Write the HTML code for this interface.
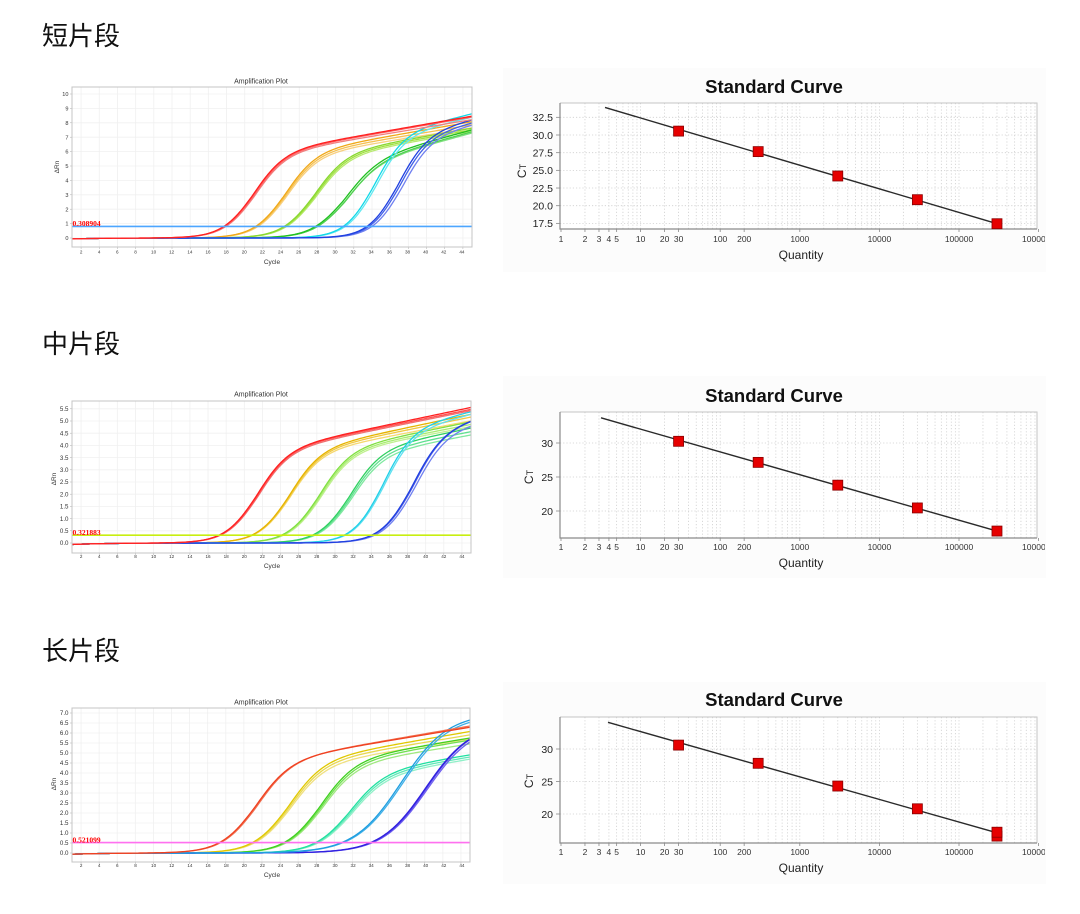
<!DOCTYPE html>
<html><head><meta charset="utf-8">
<style>
html,body{margin:0;padding:0;background:#fff;}
svg{display:block;}
.h{font-family:"Liberation Sans","Noto Sans CJK SC",sans-serif;font-size:26px;fill:#111;}
.t{font-family:"Liberation Sans",sans-serif;fill:#333;}
.ay{font-size:6.2px;text-anchor:end;}
.ay1{font-size:5.6px;text-anchor:end;}
.ax{font-size:4.6px;text-anchor:middle;}
.ttl{font-size:7px;text-anchor:middle;}
.thr{font-family:"Liberation Serif",serif;font-weight:bold;font-size:7.5px;fill:#ff0000;}
.st{font-family:"Liberation Sans",sans-serif;font-weight:bold;font-size:18.5px;fill:#111;text-anchor:middle;}
.sy{font-size:10.5px;text-anchor:end;fill:#222;}
.sx{font-size:8.5px;text-anchor:middle;fill:#333;}
.q{font-size:12px;text-anchor:middle;fill:#222;}
</style></head><body>
<svg width="1080" height="914" viewBox="0 0 1080 914" xmlns="http://www.w3.org/2000/svg">
<defs><clipPath id="cl"><rect x="0" y="0" width="1045" height="914"/></clipPath></defs>
<rect width="1080" height="914" fill="#fff"/>

<!-- headings -->
<text class="h" x="42" y="45">短片段</text>
<text class="h" x="42" y="353">中片段</text>
<text class="h" x="42" y="660">长片段</text>

<!-- std panel backgrounds -->
<rect x="503" y="68" width="543" height="204" fill="#fcfcfc"/>
<rect x="503" y="376" width="543" height="202" fill="#fcfcfc"/>
<rect x="503" y="682" width="543" height="202" fill="#fcfcfc"/>

<g id="a1"></g><g id="a2"></g><g id="a3"></g>
<g id="s1"></g><g id="s2"></g><g id="s3"></g>

<!-- ===== Amp plot 1 ===== -->
<g class="t">
<text class="ttl" x="261" y="83.5">Amplification Plot</text>
<text class="ttl" x="272" y="264" style="font-size:6.5px">Cycle</text>
<text transform="translate(59,167) rotate(-90)" style="font-size:6.5px" text-anchor="middle">ΔRn</text>
<text class="ay1" x="68.5" y="240.1">0</text>
<text class="ay1" x="68.5" y="225.7">1</text>
<text class="ay1" x="68.5" y="211.3">2</text>
<text class="ay1" x="68.5" y="196.9">3</text>
<text class="ay1" x="68.5" y="182.5">4</text>
<text class="ay1" x="68.5" y="168.1">5</text>
<text class="ay1" x="68.5" y="153.7">6</text>
<text class="ay1" x="68.5" y="139.3">7</text>
<text class="ay1" x="68.5" y="124.9">8</text>
<text class="ay1" x="68.5" y="110.5">9</text>
<text class="ay1" x="68.5" y="96.1">10</text>
<g class="ax">
<text x="81.1" y="253.5">2</text><text x="99.2" y="253.5">4</text><text x="117.3" y="253.5">6</text><text x="135.5" y="253.5">8</text><text x="153.6" y="253.5">10</text><text x="171.7" y="253.5">12</text><text x="189.9" y="253.5">14</text><text x="208" y="253.5">16</text><text x="226.2" y="253.5">18</text><text x="244.3" y="253.5">20</text><text x="262.4" y="253.5">22</text><text x="280.6" y="253.5">24</text><text x="298.7" y="253.5">26</text><text x="316.8" y="253.5">28</text><text x="335" y="253.5">30</text><text x="353.1" y="253.5">32</text><text x="371.2" y="253.5">34</text><text x="389.4" y="253.5">36</text><text x="407.5" y="253.5">38</text><text x="425.7" y="253.5">40</text><text x="443.8" y="253.5">42</text><text x="461.9" y="253.5">44</text>
</g>
</g>
<text class="thr" x="72.5" y="226">0.308904</text>

<!-- ===== Amp plot 2 ===== -->
<g class="t">
<text class="ttl" x="261" y="396.5">Amplification Plot</text>
<text class="ttl" x="272" y="568" style="font-size:6.5px">Cycle</text>
<text transform="translate(56,479) rotate(-90)" style="font-size:6.5px" text-anchor="middle">ΔRn</text>
<text class="ay" x="68.5" y="545.2">0.0</text>
<text class="ay" x="68.5" y="533">0.5</text>
<text class="ay" x="68.5" y="520.8">1.0</text>
<text class="ay" x="68.5" y="508.6">1.5</text>
<text class="ay" x="68.5" y="496.4">2.0</text>
<text class="ay" x="68.5" y="484.2">2.5</text>
<text class="ay" x="68.5" y="472">3.0</text>
<text class="ay" x="68.5" y="459.8">3.5</text>
<text class="ay" x="68.5" y="447.6">4.0</text>
<text class="ay" x="68.5" y="435.4">4.5</text>
<text class="ay" x="68.5" y="423.2">5.0</text>
<text class="ay" x="68.5" y="411">5.5</text>
<g class="ax">
<text x="81.1" y="558">2</text><text x="99.2" y="558">4</text><text x="117.3" y="558">6</text><text x="135.5" y="558">8</text><text x="153.6" y="558">10</text><text x="171.7" y="558">12</text><text x="189.9" y="558">14</text><text x="208" y="558">16</text><text x="226.2" y="558">18</text><text x="244.3" y="558">20</text><text x="262.4" y="558">22</text><text x="280.6" y="558">24</text><text x="298.7" y="558">26</text><text x="316.8" y="558">28</text><text x="335" y="558">30</text><text x="353.1" y="558">32</text><text x="371.2" y="558">34</text><text x="389.4" y="558">36</text><text x="407.5" y="558">38</text><text x="425.7" y="558">40</text><text x="443.8" y="558">42</text><text x="461.9" y="558">44</text>
</g>
</g>
<text class="thr" x="72.5" y="535">0.321883</text>

<!-- ===== Amp plot 3 ===== -->
<g class="t">
<text class="ttl" x="261" y="704.5">Amplification Plot</text>
<text class="ttl" x="272" y="877" style="font-size:6.5px">Cycle</text>
<text transform="translate(56,784) rotate(-90)" style="font-size:6.5px" text-anchor="middle">ΔRn</text>
<text class="ay" x="68.5" y="855.2">0.0</text>
<text class="ay" x="68.5" y="845.2">0.5</text>
<text class="ay" x="68.5" y="835.2">1.0</text>
<text class="ay" x="68.5" y="825.2">1.5</text>
<text class="ay" x="68.5" y="815.2">2.0</text>
<text class="ay" x="68.5" y="805.2">2.5</text>
<text class="ay" x="68.5" y="795.2">3.0</text>
<text class="ay" x="68.5" y="785.2">3.5</text>
<text class="ay" x="68.5" y="775.2">4.0</text>
<text class="ay" x="68.5" y="765.2">4.5</text>
<text class="ay" x="68.5" y="755.2">5.0</text>
<text class="ay" x="68.5" y="745.2">5.5</text>
<text class="ay" x="68.5" y="735.2">6.0</text>
<text class="ay" x="68.5" y="725.2">6.5</text>
<text class="ay" x="68.5" y="715.2">7.0</text>
<g class="ax">
<text x="81.1" y="867">2</text><text x="99.2" y="867">4</text><text x="117.3" y="867">6</text><text x="135.5" y="867">8</text><text x="153.6" y="867">10</text><text x="171.7" y="867">12</text><text x="189.9" y="867">14</text><text x="208" y="867">16</text><text x="226.2" y="867">18</text><text x="244.3" y="867">20</text><text x="262.4" y="867">22</text><text x="280.6" y="867">24</text><text x="298.7" y="867">26</text><text x="316.8" y="867">28</text><text x="335" y="867">30</text><text x="353.1" y="867">32</text><text x="371.2" y="867">34</text><text x="389.4" y="867">36</text><text x="407.5" y="867">38</text><text x="425.7" y="867">40</text><text x="443.8" y="867">42</text><text x="461.9" y="867">44</text>
</g>
</g>
<text class="thr" x="72.5" y="842.5">0.521099</text>

<!-- ===== Standard curve 1 ===== -->
<g class="t">
<text class="st" x="774" y="93">Standard Curve</text>
<text class="sy" x="553" y="121.1">32.5</text>
<text class="sy" x="553" y="138.8">30.0</text>
<text class="sy" x="553" y="156.5">27.5</text>
<text class="sy" x="553" y="174.2">25.0</text>
<text class="sy" x="553" y="191.8">22.5</text>
<text class="sy" x="553" y="209.5">20.0</text>
<text class="sy" x="553" y="227.2">17.5</text>
<text transform="translate(526,171) rotate(-90)" text-anchor="middle" style="font-size:12px;fill:#222">C<tspan style="font-size:9px">T</tspan></text>
<g class="sx" clip-path="url(#cl)">
<text x="561" y="242">1</text><text x="585" y="242">2</text><text x="599" y="242">3</text><text x="608.9" y="242">4</text><text x="616.6" y="242">5</text><text x="640.6" y="242">10</text><text x="664.6" y="242">20</text><text x="678.6" y="242">30</text><text x="720.2" y="242">100</text><text x="744.2" y="242">200</text><text x="799.8" y="242">1000</text><text x="879.4" y="242">10000</text><text x="959" y="242">100000</text><text x="1038.6" y="242">1000000</text>
</g>
<text class="q" x="801" y="259">Quantity</text>
</g>

<!-- ===== Standard curve 2 ===== -->
<g class="t">
<text class="st" x="774" y="402">Standard Curve</text>
<text class="sy" x="553" y="446.8">30</text>
<text class="sy" x="553" y="480.8">25</text>
<text class="sy" x="553" y="514.8">20</text>
<text transform="translate(533,477) rotate(-90)" text-anchor="middle" style="font-size:12px;fill:#222">C<tspan style="font-size:9px">T</tspan></text>
<g class="sx" clip-path="url(#cl)">
<text x="561" y="550">1</text><text x="585" y="550">2</text><text x="599" y="550">3</text><text x="608.9" y="550">4</text><text x="616.6" y="550">5</text><text x="640.6" y="550">10</text><text x="664.6" y="550">20</text><text x="678.6" y="550">30</text><text x="720.2" y="550">100</text><text x="744.2" y="550">200</text><text x="799.8" y="550">1000</text><text x="879.4" y="550">10000</text><text x="959" y="550">100000</text><text x="1038.6" y="550">1000000</text>
</g>
<text class="q" x="801" y="567">Quantity</text>
</g>

<!-- ===== Standard curve 3 ===== -->
<g class="t">
<text class="st" x="774" y="706">Standard Curve</text>
<text class="sy" x="553" y="752.8">30</text>
<text class="sy" x="553" y="785.3">25</text>
<text class="sy" x="553" y="817.8">20</text>
<text transform="translate(533,781) rotate(-90)" text-anchor="middle" style="font-size:12px;fill:#222">C<tspan style="font-size:9px">T</tspan></text>
<g class="sx" clip-path="url(#cl)">
<text x="561" y="855">1</text><text x="585" y="855">2</text><text x="599" y="855">3</text><text x="608.9" y="855">4</text><text x="616.6" y="855">5</text><text x="640.6" y="855">10</text><text x="664.6" y="855">20</text><text x="678.6" y="855">30</text><text x="720.2" y="855">100</text><text x="744.2" y="855">200</text><text x="799.8" y="855">1000</text><text x="879.4" y="855">10000</text><text x="959" y="855">100000</text><text x="1038.6" y="855">1000000</text>
</g>
<text class="q" x="801" y="872">Quantity</text>
</g>
</svg>

<script>
var NS="http://www.w3.org/2000/svg";
function el(t,a,p){var e=document.createElementNS(NS,t);for(var k in a)e.setAttribute(k,a[k]);p.appendChild(e);return e;}
function amp(id,P){
  var g=document.getElementById(id);
  var X=function(c){return P.x0+(c-1)*(P.x1-P.x0)/44;};
  var Y=function(v){return P.y0-v*P.sc;};
  el('rect',{x:P.x0,y:P.top,width:P.x1-P.x0,height:P.bot-P.top,fill:'#fff'},g);
  for(var c=2;c<=44;c+=2){var x=X(c);el('line',{x1:x,x2:x,y1:P.top,y2:P.bot,stroke:'#f0f0f0','stroke-width':0.8},g);
    el('line',{x1:x,x2:x,y1:P.bot,y2:P.bot+2,stroke:'#aaa','stroke-width':0.5},g);}
  for(var i=0;i<P.ticks.length;i++){var y=Y(P.ticks[i]);el('line',{x1:P.x0,x2:P.x1,y1:y,y2:y,stroke:'#f0f0f0','stroke-width':0.8},g);
    el('line',{x1:P.x0-2,x2:P.x0,y1:y,y2:y,stroke:'#aaa','stroke-width':0.5},g);}
  for(var j=0;j<P.curves.length;j++){
    var cv=P.curves[j],d='';
    for(var c=1;c<=45.001;c+=0.25){
      var s=1/(1+Math.exp(-(c-cv[1])/cv[2]));
      var v=cv[3]*s+cv[4]*Math.max(0,c-cv[1])*s-0.06*Math.exp(-(c-1)/4);
      d+=(c===1?'M':'L')+X(c).toFixed(2)+','+Y(v).toFixed(2);
    }
    el('path',{d:d,fill:'none',stroke:cv[0],'stroke-width':1.3,'stroke-linejoin':'round'},g);
  }
  var ty=Y(P.thr);
  el('line',{x1:P.x0,x2:P.x1,y1:ty,y2:ty,stroke:P.thrCol,'stroke-width':1.6},g);
  el('rect',{x:P.x0,y:P.top,width:P.x1-P.x0,height:P.bot-P.top,fill:'none',stroke:'#c4c4c4','stroke-width':1},g);
}
function std(id,P){
  var g=document.getElementById(id);
  var X=function(q){return 561+79.6*Math.log(q)/Math.LN10;};
  var Y=function(ct){return P.y30-(ct-30)*P.sc;};
  el('rect',{x:560,y:P.top,width:477,height:P.bot-P.top,fill:'#fff'},g);
  for(var d=0;d<6;d++)for(var m=1;m<=9;m++){if(d===0&&m===1)continue;var x=X(m*Math.pow(10,d));
    el('line',{x1:x,x2:x,y1:P.top,y2:P.bot,stroke:'#cfcfcf','stroke-width':0.8,'stroke-dasharray':'1.2,2'},g);}
  for(var i=0;i<P.ticks.length;i++){var y=Y(P.ticks[i]);
    el('line',{x1:560,x2:1037,y1:y,y2:y,stroke:'#cfcfcf','stroke-width':0.8,'stroke-dasharray':'1.2,2'},g);
    el('line',{x1:556,x2:560,y1:y,y2:y,stroke:'#888','stroke-width':0.8},g);}
  var lab=[1,2,3,4,5,10,20,30,100,200,1000,10000,100000,1000000];
  for(var i=0;i<lab.length;i++){var x=X(lab[i]);el('line',{x1:x,x2:x,y1:P.bot,y2:P.bot+3,stroke:'#888','stroke-width':0.8},g);}
  el('path',{d:'M560,'+P.top+'H1037V'+P.bot,stroke:'#c4c4c4',fill:'none','stroke-width':1},g);
  el('path',{d:'M560,'+P.top+'V'+P.bot+'H1037',stroke:'#8a8a8a',fill:'none','stroke-width':1.2},g);
  el('line',{x1:P.lx,y1:Y(P.lc0),x2:X(300000),y2:Y(P.lc1),stroke:'#2a2a2a','stroke-width':1.4},g);
  for(var i=0;i<P.pts.length;i++){var x=X(P.pts[i][0]),y=Y(P.pts[i][1]);
    el('rect',{x:x-5,y:y-5,width:10,height:10,fill:'#e60000',stroke:'#8a0000','stroke-width':0.8},g);}
}
function range(a,b,s){var r=[];for(var v=a;v<=b+1e-9;v+=s)r.push(+v.toFixed(2));return r;}

amp('a1',{x0:72,x1:472,y0:238,sc:14.4,top:87,bot:247,ticks:range(0,10,1),thr:0.8,thrCol:'#4da6ff',
 curves:[
  ['#f8d080',24.5,1.7,5.6,0.10],['#f5c050',24.4,1.7,5.7,0.105],['#f0a818',24.3,1.7,5.8,0.11],
  ['#b8ea70',27.7,1.75,5.5,0.11],['#a0e040',27.6,1.75,5.6,0.11],['#88d830',27.5,1.75,5.7,0.11],
  ['#80e080',30.9,1.8,4.9,0.17],['#50d050',31.0,1.8,5.0,0.17],['#20c020',30.8,1.8,5.1,0.17],
  ['#60e8f0',34.3,1.6,6.9,0.14],['#10d8e8',34.1,1.6,7.0,0.15],
  ['#7080f0',37.2,1.6,6.8,0.14],['#4060e8',36.9,1.6,6.9,0.14],['#2040e0',36.7,1.6,7.0,0.15],
  ['#f08080',21.0,1.7,5.7,0.105],['#ff6060',20.9,1.7,5.75,0.11],['#ff2020',20.8,1.7,5.8,0.11]
 ]});
amp('a2',{x0:72,x1:471,y0:543,sc:24.4,top:401,bot:553,ticks:range(0,5.5,0.5),thr:0.32,thrCol:'#c8ee10',
 curves:[
  ['#f5d870',24.9,1.7,3.6,0.07],['#f0c840',24.85,1.7,3.65,0.075],['#e6b400',24.8,1.7,3.7,0.078],
  ['#c0f090',28.3,1.7,3.6,0.07],['#a8ec70',28.2,1.7,3.65,0.072],['#80e040',28.1,1.7,3.7,0.075],
  ['#80e8a0',31.7,1.7,3.5,0.07],['#60e090',31.6,1.7,3.6,0.072],['#30d060',31.5,1.7,3.7,0.075],
  ['#60e0f0',35.2,1.6,4.4,0.09],['#20d0e8',35.1,1.6,4.5,0.09],
  ['#7080f0',38.7,1.7,4.4,0.08],['#5060e8',38.5,1.7,4.5,0.09],['#2040e0',38.4,1.7,4.5,0.09],
  ['#f07070',21.35,1.7,3.65,0.075],['#ff5050',21.3,1.7,3.7,0.075],['#ff2020',21.2,1.7,3.7,0.078]
 ]});
amp('a3',{x0:72,x1:470,y0:853,sc:20,top:708,bot:862,ticks:range(0,7,0.5),thr:0.52,thrCol:'#ff70f0',
 curves:[
  ['#f0e080',25.0,1.9,4.3,0.07],['#e8d850',24.9,1.9,4.4,0.075],['#e0c800',24.8,1.9,4.5,0.078],
  ['#a0e880',28.5,1.9,4.3,0.07],['#70e050',28.4,1.9,4.4,0.075],['#40d020',28.3,1.9,4.5,0.075],
  ['#90f0c8',31.7,1.9,3.7,0.075],['#60e8b8',31.6,1.9,3.8,0.075],['#20e0a0',31.5,1.9,3.9,0.075],
  ['#7060f0',40.3,2.5,6.4,0],['#5040e8',40.2,2.5,6.5,0],['#3020e0',40.1,2.5,6.5,0],
  ['#40b0e8',37.5,2.6,6.9,0],['#1e9ee0',37.36,2.6,7.0,0],
  ['#f07050',21.3,1.9,4.5,0.078],['#f04020',21.15,1.9,4.5,0.075]
 ]});

std('s1',{y30:135,sc:7.07,top:103,bot:229,ticks:[17.5,20,22.5,25,27.5,30,32.5],lx:605,lc0:33.9,lc1:17.45,
 pts:[[30,30.55],[300,27.65],[3000,24.2],[30000,20.85],[300000,17.45]]});
std('s2',{y30:443,sc:6.8,top:412,bot:538,ticks:[20,25,30],lx:601,lc0:33.7,lc1:17.05,
 pts:[[30,30.25],[300,27.15],[3000,23.8],[30000,20.45],[300000,17.05]]});
std('s3',{y30:749,sc:6.5,top:717,bot:843,ticks:[20,25,30],lx:608,lc0:34.1,lc1:17.1,
 pts:[[30,30.6],[300,27.8],[3000,24.3],[30000,20.8],[300000,16.6],[300000,17.2]]});
</script>
</body></html>
